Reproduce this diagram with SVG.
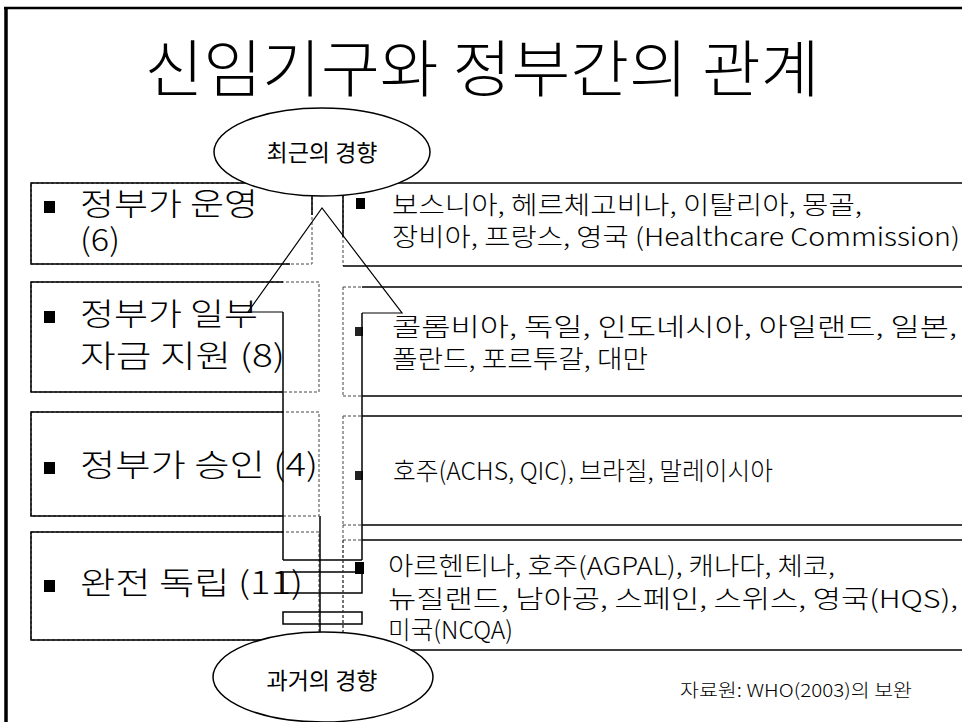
<svg xmlns="http://www.w3.org/2000/svg" width="962" height="722" viewBox="0 0 962 722">
<style>
.frame{stroke:#000;stroke-width:2.5;fill:none}
.solid{stroke:#000;stroke-width:1.5;fill:none}
.dash{stroke:#444;stroke-width:1;fill:none;stroke-dasharray:3 2}
.thin{stroke:#000;stroke-width:1.2;fill:none}
.title{font-family:"Noto Sans CJK KR","Liberation Sans",sans-serif;font-size:62px;font-weight:300;fill:#000}
.lt{font-family:"Noto Sans CJK KR","Liberation Sans",sans-serif;font-size:31px;font-weight:300;fill:#000}
.rt{font-family:"Noto Sans CJK KR","Liberation Sans",sans-serif;font-size:25px;font-weight:300;fill:#000}
.el{font-family:"Noto Sans CJK KR","Liberation Sans",sans-serif;font-size:23px;font-weight:400;fill:#000}
.src{font-family:"Noto Sans CJK KR","Liberation Sans",sans-serif;font-size:18px;font-weight:300;fill:#000}
.ell{fill:#fff;stroke:#000;stroke-width:1.5}
.bul{fill:#000}
.bul2{fill:#222}
</style>
<rect width="962" height="722" fill="#fff"/>
<g id="frame">
<line class="frame" x1="4" y1="8" x2="962" y2="8"/>
<line class="frame" x1="6" y1="7" x2="6" y2="722" style="stroke-width:3.5"/>
</g>
<g id="title"><text class="title" x="482" y="92" text-anchor="middle" textLength="675" lengthAdjust="spacingAndGlyphs">신임기구와 정부간의 관계</text></g>

<g id="left-row1">
<rect class="dash" x="31" y="183" width="281" height="81"/>
<polyline class="solid" points="290,183 31,183 31,264 290,264"/>
<rect class="bul" x="44" y="201" width="11" height="12"/>
<text class="lt" x="80" y="215" textLength="178" lengthAdjust="spacingAndGlyphs">정부가 운영</text>
<text class="lt" x="80" y="251" textLength="40" lengthAdjust="spacingAndGlyphs">(6)</text>
</g>
<g id="left-row2">
<rect class="dash" x="31" y="282" width="288" height="110"/>
<polyline class="solid" points="283,282 31,282 31,392 283,392"/>
<rect class="bul" x="44" y="311" width="11" height="12"/>
<text class="lt" x="80" y="325" textLength="178" lengthAdjust="spacingAndGlyphs">정부가 일부</text>
<text class="lt" x="80" y="367" textLength="205" lengthAdjust="spacingAndGlyphs">자금 지원 (8)</text>
</g>
<g id="left-row3">
<rect class="dash" x="31" y="412" width="288" height="104"/>
<polyline class="solid" points="283,412 31,412 31,516 283,516"/>
<rect class="bul" x="44" y="462" width="11" height="12"/>
<text class="lt" x="80" y="476" textLength="238" lengthAdjust="spacingAndGlyphs">정부가 승인 (4)</text>
</g>
<g id="left-row4">
<rect class="dash" x="31" y="532" width="288" height="108"/>
<polyline class="solid" points="283,532 31,532 31,640 283,640"/>
<rect class="bul" x="44" y="580" width="11" height="12"/>
<text class="lt" x="80" y="594" textLength="223" lengthAdjust="spacingAndGlyphs">완전 독립 (11)</text>
</g>

<g id="right-row1">
<line class="dash" x1="343" y1="195" x2="343" y2="266"/>
<line class="solid" x1="343" y1="183" x2="962" y2="183"/>
<polyline class="solid" points="343,266 962,266"/>
<rect class="bul" x="356" y="198" width="9" height="11"/>
<text class="rt" x="392" y="214" textLength="470" lengthAdjust="spacingAndGlyphs">보스니아, 헤르체고비나, 이탈리아, 몽골,</text>
<text class="rt" x="392" y="246" textLength="568" lengthAdjust="spacingAndGlyphs">장비아, 프랑스, 영국 (Healthcare Commission)</text>
</g>
<g id="right-row2">
<line class="dash" x1="343" y1="287" x2="343" y2="396"/>
<line class="dash" x1="343" y1="287" x2="362" y2="287"/>
<line class="dash" x1="343" y1="396" x2="362" y2="396"/>
<line class="solid" x1="362" y1="287" x2="962" y2="287"/>
<line class="solid" x1="362" y1="396" x2="962" y2="396"/>
<rect class="bul2" x="355" y="327" width="8" height="9"/>
<text class="rt" x="392" y="336" textLength="565" lengthAdjust="spacingAndGlyphs">콜롬비아, 독일, 인도네시아, 아일랜드, 일본,</text>
<text class="rt" x="392" y="368" textLength="256" lengthAdjust="spacingAndGlyphs">폴란드, 포르투갈, 대만</text>
</g>
<g id="right-row3">
<line class="dash" x1="343" y1="416" x2="343" y2="525"/>
<line class="dash" x1="343" y1="416" x2="362" y2="416"/>
<line class="dash" x1="343" y1="525" x2="362" y2="525"/>
<line class="solid" x1="362" y1="416" x2="962" y2="416"/>
<line class="solid" x1="362" y1="525" x2="962" y2="525"/>
<rect class="bul2" x="355" y="471" width="8" height="9"/>
<text class="rt" x="393" y="480" textLength="380" lengthAdjust="spacingAndGlyphs">호주(ACHS, QIC), 브라질, 말레이시아</text>
</g>
<g id="right-row4">
<line class="dash" x1="343" y1="540" x2="343" y2="650"/>
<line class="dash" x1="343" y1="540" x2="362" y2="540"/>
<line class="solid" x1="362" y1="540" x2="962" y2="540"/>
<line class="solid" x1="380" y1="650" x2="962" y2="650"/>
<rect class="bul" x="355" y="562" width="9" height="12"/>
<text class="rt" x="388" y="575" textLength="447" lengthAdjust="spacingAndGlyphs">아르헨티나, 호주(AGPAL), 캐나다, 체코,</text>
<text class="rt" x="388" y="608" textLength="570" lengthAdjust="spacingAndGlyphs">뉴질랜드, 남아공, 스페인, 스위스, 영국(HQS),</text>
<text class="rt" x="388" y="639" textLength="125" lengthAdjust="spacingAndGlyphs">미국(NCQA)</text>
</g>

<g id="connectors">
<line class="solid" x1="312" y1="190" x2="312" y2="215"/>
<line class="solid" x1="343" y1="190" x2="343" y2="237"/>
<polyline class="thin" points="283,312 248,312 322,208 402,313 362,313"/>
<line class="solid" x1="283" y1="312" x2="283" y2="560"/>
<line class="solid" x1="362" y1="313" x2="362" y2="560"/>
<line class="solid" x1="283" y1="560" x2="362" y2="560"/>
<rect class="solid" x="283" y="572" width="79" height="21"/>
<rect class="solid" x="283" y="612" width="79" height="12"/>
<line class="solid" x1="320" y1="516" x2="320" y2="640"/>
<line class="dash" x1="343" y1="525" x2="343" y2="640"/>
</g>

<g id="ellipse-recent">
<ellipse class="ell" cx="322" cy="152" rx="108" ry="44"/>
<text class="el" x="322" y="161" text-anchor="middle">최근의 경향</text>
</g>
<g id="ellipse-past">
<ellipse class="ell" cx="323" cy="677" rx="110" ry="45"/>
<text class="el" x="322" y="689" text-anchor="middle">과거의 경향</text>
</g>
<g id="source">
<text class="src" x="680" y="697" textLength="232" lengthAdjust="spacingAndGlyphs">자료원: WHO(2003)의 보완</text>
</g>
</svg>
